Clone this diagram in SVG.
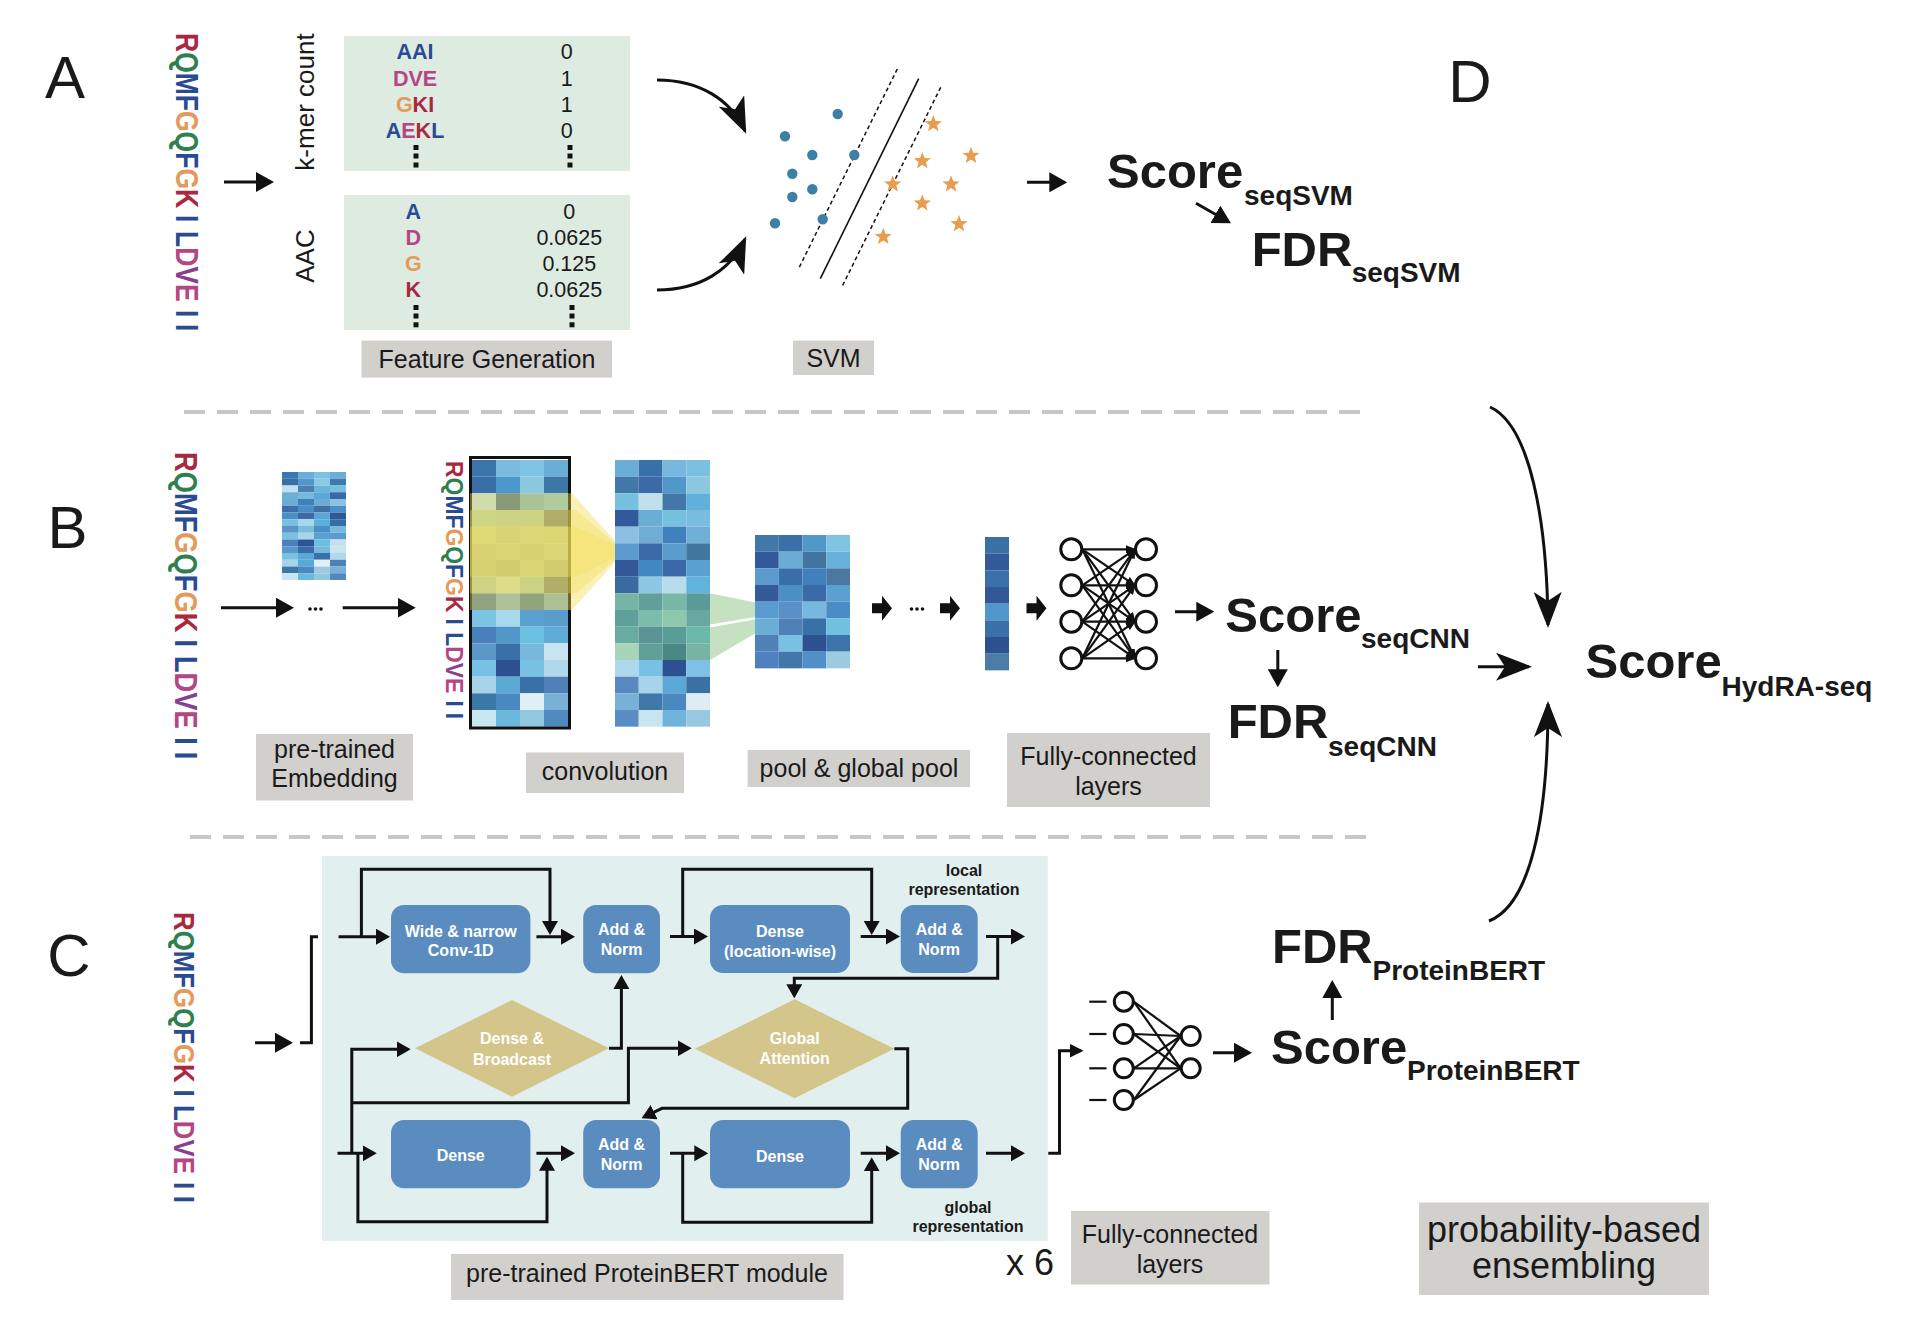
<svg xmlns="http://www.w3.org/2000/svg" width="1928" height="1324" viewBox="0 0 1928 1324">
<style>
text{font-family:"Liberation Sans",Arial,sans-serif;fill:#1a1a1a}
.sec{font-size:60px}
.seq{font-weight:bold}
.cR{fill:#a8283f}.cQ{fill:#2f8050}.cB{fill:#2a4a92}.cG{fill:#e39a5b}.cD{fill:#b54684}.cV{fill:#8a4090}
.tb{font-size:21.5px;font-weight:bold;text-anchor:middle}
.tv{font-size:21.5px;text-anchor:middle}
.rot{font-size:26px;text-anchor:middle}
.lab{fill:#d1d0cc}
.lt{font-size:25px;text-anchor:middle}
.big{font-size:36px;text-anchor:middle}
.sc{font-size:49px;font-weight:bold}
.sub{font-size:28px;font-weight:bold}
.box{fill:#5b8cbf}
.dia{fill:#d4c68b}
.wt{fill:#fff;font-size:16px;font-weight:bold;text-anchor:middle}
.rep{font-size:16px;font-weight:bold;text-anchor:middle}
.ln{fill:none;stroke:#111;stroke-width:3}
.dash{fill:none;stroke:#c7c7c3;stroke-width:4;stroke-dasharray:21 12}
.dot{fill:#3e7fa5}
.star{fill:#e89c4f}
.nn{fill:#fff;stroke:#111;stroke-width:3}
.nl{stroke:#111;stroke-width:2.2}
</style>
<defs>
<marker id="ah" viewBox="0 0 18 20" refX="15" refY="10" markerWidth="18" markerHeight="20" markerUnits="userSpaceOnUse" orient="auto"><path d="M0,0 L18,10 L0,20 Z" fill="#111"/></marker>
<marker id="ac" viewBox="0 0 14 16" refX="11" refY="8" markerWidth="14" markerHeight="16" markerUnits="userSpaceOnUse" orient="auto"><path d="M0,0 L14,8 L0,16 Z" fill="#111"/></marker>
<marker id="as" viewBox="0 0 14 14" refX="11" refY="7" markerWidth="14" markerHeight="14" markerUnits="userSpaceOnUse" orient="auto"><path d="M0,0 L14,7 L0,14 Z" fill="#111"/></marker>
<marker id="an" viewBox="0 0 10 8" refX="9" refY="4" markerWidth="10" markerHeight="8" markerUnits="userSpaceOnUse" orient="auto"><path d="M0,0 L10,4 L0,8 Z" fill="#111"/></marker>
<marker id="acv" viewBox="0 0 36 28" refX="33" refY="14" markerWidth="36" markerHeight="28" markerUnits="userSpaceOnUse" orient="auto"><path d="M0,0 L36,14 L0,28 L9,14 Z" fill="#111"/></marker>
<path id="star" d="M0,-9 L2.23,-3.07 L8.56,-2.78 L3.61,1.17 L5.29,7.28 L0,3.8 L-5.29,7.28 L-3.61,1.17 L-8.56,-2.78 L-2.23,-3.07 Z"/>
<path id="barrow" d="M0,-5 H10 V-12.5 L20,0 L10,12.5 V5 H0 Z"/>
<text id="seqT" class="seq" font-size="26.5"><tspan class="cR">R</tspan><tspan class="cQ">Q</tspan><tspan class="cB">MF</tspan><tspan class="cG">G</tspan><tspan class="cQ">Q</tspan><tspan class="cB">F</tspan><tspan class="cG">G</tspan><tspan class="cR">K</tspan><tspan class="cB" x="182">I</tspan><tspan class="cB" x="198">L</tspan><tspan class="cD">D</tspan><tspan class="cV">V</tspan><tspan class="cD">E</tspan><tspan class="cB" x="277">I</tspan><tspan class="cB" x="291">I</tspan></text>
</defs>

<!-- section letters -->
<g id="letters">
<text class="sec" x="65" y="98" text-anchor="middle">A</text>
<text class="sec" x="67.5" y="548" text-anchor="middle">B</text>
<text class="sec" x="69" y="976" text-anchor="middle">C</text>
<text class="sec" x="1470" y="102" text-anchor="middle">D</text>
</g>

<!-- separators -->
<g id="separators">
<line class="dash" x1="184" y1="412" x2="1367" y2="412"/>
<line class="dash" x1="190" y1="837" x2="1371" y2="837"/>
</g>

<!-- ===== Section A ===== -->
<g id="seqA"><use href="#seqT" transform="translate(176,33) rotate(90) scale(1,1.16)"/></g>
<g id="kmer">
<text class="rot" transform="translate(314,102) rotate(-90)">k-mer count</text>
<rect x="344" y="36" width="286" height="135" fill="#deebe1"/>
<text class="tb" x="415" y="59.3"><tspan class="cB">AAI</tspan></text>
<text class="tb" x="415" y="86"><tspan class="cD">DVE</tspan></text>
<text class="tb" x="415" y="111.7"><tspan class="cG">G</tspan><tspan class="cR">KI</tspan></text>
<text class="tb" x="415" y="138.3"><tspan class="cB">A</tspan><tspan class="cD">E</tspan><tspan class="cR">K</tspan><tspan class="cB">L</tspan></text>
<text class="tv" x="566.7" y="59.3">0</text>
<text class="tv" x="566.7" y="86">1</text>
<text class="tv" x="566.7" y="111.7">1</text>
<text class="tv" x="566.7" y="138.3">0</text>
<g fill="#111"><rect x="413.5" y="145" width="5" height="5"/><rect x="413.5" y="153.5" width="5" height="5"/><rect x="413.5" y="162.5" width="5" height="5"/>
<rect x="567.5" y="145" width="5" height="5"/><rect x="567.5" y="153.5" width="5" height="5"/><rect x="567.5" y="162.5" width="5" height="5"/></g>
</g>
<g id="aac">
<text class="rot" transform="translate(314,256) rotate(-90)">AAC</text>
<rect x="344" y="195" width="286" height="135" fill="#deebe1"/>
<text class="tb" x="413.3" y="219"><tspan class="cB">A</tspan></text>
<text class="tb" x="413.3" y="245"><tspan class="cD">D</tspan></text>
<text class="tb" x="413.3" y="270.7"><tspan class="cG">G</tspan></text>
<text class="tb" x="413.3" y="296.7"><tspan class="cR">K</tspan></text>
<text class="tv" x="569.3" y="219">0</text>
<text class="tv" x="569.3" y="245">0.0625</text>
<text class="tv" x="569.3" y="270.7">0.125</text>
<text class="tv" x="569.3" y="296.7">0.0625</text>
<g fill="#111"><rect x="413.5" y="305" width="5" height="5"/><rect x="413.5" y="313.5" width="5" height="5"/><rect x="413.5" y="322.3" width="5" height="5"/>
<rect x="569.5" y="305" width="5" height="5"/><rect x="569.5" y="313.5" width="5" height="5"/><rect x="569.5" y="322.3" width="5" height="5"/></g>
</g>
<g id="labFeature"><rect class="lab" x="361.5" y="340.6" width="250.5" height="37"/><text class="lt" x="487" y="368">Feature Generation</text></g>

<g id="svm">
<line x1="897.3" y1="69" x2="798.3" y2="269.3" stroke="#111" stroke-width="1.5" stroke-dasharray="4 3"/>
<line x1="918.7" y1="78.7" x2="820.3" y2="278.7" stroke="#111" stroke-width="1.6"/>
<line x1="940.7" y1="87.3" x2="841.7" y2="287.3" stroke="#111" stroke-width="1.5" stroke-dasharray="4 3"/>
<g class="dot">
<circle cx="837.7" cy="114" r="5.2"/><circle cx="785" cy="136.3" r="5.2"/><circle cx="812.3" cy="155" r="5.2"/><circle cx="854.3" cy="155" r="5.2"/><circle cx="792.3" cy="173.7" r="5.2"/><circle cx="812.3" cy="189.3" r="5.2"/><circle cx="792.3" cy="197" r="5.2"/><circle cx="775" cy="223.3" r="5.2"/><circle cx="822.7" cy="219.3" r="5.2"/>
</g>
<g class="star">
<use href="#star" x="933.3" y="124"/><use href="#star" x="971" y="155.7"/><use href="#star" x="922.3" y="161"/><use href="#star" x="892.7" y="184.3"/><use href="#star" x="951" y="184.3"/><use href="#star" x="922.3" y="203.3"/><use href="#star" x="959" y="224"/><use href="#star" x="883.3" y="236.7"/>
</g>
</g>
<g id="labSVM"><rect class="lab" x="793" y="340.6" width="81" height="34.4"/><text class="lt" x="833.5" y="366.5">SVM</text></g>

<g id="scoreSVM">
<text class="sc" x="1107" y="188">Score</text><text class="sub" x="1244" y="205">seqSVM</text>
<text class="sc" x="1251.7" y="265.7">FDR</text><text class="sub" x="1351.7" y="281.7">seqSVM</text>
</g>

<!-- ===== Section B ===== -->
<g id="seqB"><use href="#seqT" transform="translate(175,452) rotate(90) scale(1.03,1.16)"/></g>
<g id="embedSmall" transform="translate(282,472)">
<rect x="0" y="0" width="16" height="6.75" fill="#3a78b0"/><rect x="16" y="0" width="16" height="6.75" fill="#6aaed8"/><rect x="32" y="0" width="16" height="6.75" fill="#7cc0e4"/><rect x="48" y="0" width="16" height="6.75" fill="#6aaed6"/>
<rect x="0" y="6.75" width="16" height="6.75" fill="#3a6ea8"/><rect x="16" y="6.75" width="16" height="6.75" fill="#5098cc"/><rect x="32" y="6.75" width="16" height="6.75" fill="#8ccae4"/><rect x="48" y="6.75" width="16" height="6.75" fill="#3e7aaa"/>
<rect x="0" y="13.5" width="16" height="6.75" fill="#c0e0ee"/><rect x="16" y="13.5" width="16" height="6.75" fill="#4a80b4"/><rect x="32" y="13.5" width="16" height="6.75" fill="#6ab4dc"/><rect x="48" y="13.5" width="16" height="6.75" fill="#78c0e2"/>
<rect x="0" y="20.25" width="16" height="6.75" fill="#6ab0d8"/><rect x="16" y="20.25" width="16" height="6.75" fill="#78b8dc"/><rect x="32" y="20.25" width="16" height="6.75" fill="#5aa8d8"/><rect x="48" y="20.25" width="16" height="6.75" fill="#3a68a8"/>
<rect x="0" y="27" width="16" height="6.75" fill="#6aacd4"/><rect x="16" y="27" width="16" height="6.75" fill="#4080bc"/><rect x="32" y="27" width="16" height="6.75" fill="#6aacd6"/><rect x="48" y="27" width="16" height="6.75" fill="#8cc4e0"/>
<rect x="0" y="33.75" width="16" height="6.75" fill="#3a70aa"/><rect x="16" y="33.75" width="16" height="6.75" fill="#4a8cc4"/><rect x="32" y="33.75" width="16" height="6.75" fill="#3e70a4"/><rect x="48" y="33.75" width="16" height="6.75" fill="#4a90c8"/>
<rect x="0" y="40.5" width="16" height="6.75" fill="#4a90c4"/><rect x="16" y="40.5" width="16" height="6.75" fill="#3a6aa8"/><rect x="32" y="40.5" width="16" height="6.75" fill="#5aa6d6"/><rect x="48" y="40.5" width="16" height="6.75" fill="#2c5a98"/>
<rect x="0" y="47.25" width="16" height="6.75" fill="#78c0e2"/><rect x="16" y="47.25" width="16" height="6.75" fill="#a8d6ea"/><rect x="32" y="47.25" width="16" height="6.75" fill="#5ab0dc"/><rect x="48" y="47.25" width="16" height="6.75" fill="#3a6aa8"/>
<rect x="0" y="54" width="16" height="6.75" fill="#5a94c4"/><rect x="16" y="54" width="16" height="6.75" fill="#7abce0"/><rect x="32" y="54" width="16" height="6.75" fill="#4a90c4"/><rect x="48" y="54" width="16" height="6.75" fill="#78b8dc"/>
<rect x="0" y="60.75" width="16" height="6.75" fill="#78c0e4"/><rect x="16" y="60.75" width="16" height="6.75" fill="#a8d4ea"/><rect x="32" y="60.75" width="16" height="6.75" fill="#5aa0d0"/><rect x="48" y="60.75" width="16" height="6.75" fill="#5a9cd0"/>
<rect x="0" y="67.5" width="16" height="6.75" fill="#4a80bc"/><rect x="16" y="67.5" width="16" height="6.75" fill="#2c5596"/><rect x="32" y="67.5" width="16" height="6.75" fill="#6ac0e0"/><rect x="48" y="67.5" width="16" height="6.75" fill="#c6e0ee"/>
<rect x="0" y="74.25" width="16" height="6.75" fill="#5a98c8"/><rect x="16" y="74.25" width="16" height="6.75" fill="#3a6aa8"/><rect x="32" y="74.25" width="16" height="6.75" fill="#78b8dc"/><rect x="48" y="74.25" width="16" height="6.75" fill="#c8e4f0"/>
<rect x="0" y="81" width="16" height="6.75" fill="#78c0e4"/><rect x="16" y="81" width="16" height="6.75" fill="#5aa8d8"/><rect x="32" y="81" width="16" height="6.75" fill="#3a70a8"/><rect x="48" y="81" width="16" height="6.75" fill="#b0d8ea"/>
<rect x="0" y="87.75" width="16" height="6.75" fill="#a8d4ea"/><rect x="16" y="87.75" width="16" height="6.75" fill="#5aa8d4"/><rect x="32" y="87.75" width="16" height="6.75" fill="#e0f0f6"/><rect x="48" y="87.75" width="16" height="6.75" fill="#5080b8"/>
<rect x="0" y="94.5" width="16" height="6.75" fill="#3a78a8"/><rect x="16" y="94.5" width="16" height="6.75" fill="#4a88c0"/><rect x="32" y="94.5" width="16" height="6.75" fill="#9ecae1"/><rect x="48" y="94.5" width="16" height="6.75" fill="#78b0d8"/>
<rect x="0" y="101.25" width="16" height="6.75" fill="#c8e6f0"/><rect x="16" y="101.25" width="16" height="6.75" fill="#6ab8dc"/><rect x="32" y="101.25" width="16" height="6.75" fill="#90c8e0"/><rect x="48" y="101.25" width="16" height="6.75" fill="#5088c0"/>
</g>
<g id="ellipsisB" fill="#111">
<circle cx="310" cy="609" r="1.8"/><circle cx="315.5" cy="609" r="1.8"/><circle cx="321" cy="609" r="1.8"/>
<circle cx="911.5" cy="609" r="1.8"/><circle cx="917" cy="609" r="1.8"/><circle cx="922.5" cy="609" r="1.8"/>
</g>
<g id="seqB2"><use href="#seqT" transform="translate(446,461) rotate(90) scale(0.865,0.9)"/></g>
<g id="convInput">
<g transform="translate(472,460)">
<rect x="0" y="0" width="24" height="16.67" fill="#3b74a8"/><rect x="24" y="0" width="24" height="16.67" fill="#7bbbe0"/><rect x="48" y="0" width="24" height="16.67" fill="#7fc4e4"/><rect x="72" y="0" width="24" height="16.67" fill="#6aaed6"/>
<rect x="0" y="16.67" width="24" height="16.67" fill="#3a6ea8"/><rect x="24" y="16.67" width="24" height="16.67" fill="#4a98cc"/><rect x="48" y="16.67" width="24" height="16.67" fill="#8cc8e0"/><rect x="72" y="16.67" width="24" height="16.67" fill="#3e78a8"/>
<rect x="0" y="33.33" width="24" height="16.67" fill="#b8dcea"/><rect x="24" y="33.33" width="24" height="16.67" fill="#3a6a90"/><rect x="48" y="33.33" width="24" height="16.67" fill="#78b0c8"/><rect x="72" y="33.33" width="24" height="16.67" fill="#80c0d0"/>
<rect x="0" y="50" width="24" height="16.67" fill="#90c8dc"/><rect x="24" y="50" width="24" height="16.67" fill="#90c4d8"/><rect x="48" y="50" width="24" height="16.67" fill="#90c0d8"/><rect x="72" y="50" width="24" height="16.67" fill="#3a5a88"/>
<rect x="0" y="66.67" width="24" height="16.67" fill="#a0d0e4"/><rect x="24" y="66.67" width="24" height="16.67" fill="#80b8d8"/><rect x="48" y="66.67" width="24" height="16.67" fill="#98c8e0"/><rect x="72" y="66.67" width="24" height="16.67" fill="#90c4dc"/>
<rect x="0" y="83.33" width="24" height="16.67" fill="#80b4d8"/><rect x="24" y="83.33" width="24" height="16.67" fill="#88c0dc"/><rect x="48" y="83.33" width="24" height="16.67" fill="#78b0d4"/><rect x="72" y="83.33" width="24" height="16.67" fill="#90c8e0"/>
<rect x="0" y="100" width="24" height="16.67" fill="#78b0d4"/><rect x="24" y="100" width="24" height="16.67" fill="#6aa0c8"/><rect x="48" y="100" width="24" height="16.67" fill="#88c0dc"/><rect x="72" y="100" width="24" height="16.67" fill="#6a98c0"/>
<rect x="0" y="116.67" width="24" height="16.67" fill="#90c4dc"/><rect x="24" y="116.67" width="24" height="16.67" fill="#b8dcea"/><rect x="48" y="116.67" width="24" height="16.67" fill="#88c0d8"/><rect x="72" y="116.67" width="24" height="16.67" fill="#3a6090"/>
<rect x="0" y="133.33" width="24" height="16.67" fill="#4a7ca0"/><rect x="24" y="133.33" width="24" height="16.67" fill="#7ab0c8"/><rect x="48" y="133.33" width="24" height="16.67" fill="#4a7c98"/><rect x="72" y="133.33" width="24" height="16.67" fill="#78acc0"/>
<rect x="0" y="150" width="24" height="16.67" fill="#7cc4e4"/><rect x="24" y="150" width="24" height="16.67" fill="#a8d8ec"/><rect x="48" y="150" width="24" height="16.67" fill="#5aa0d0"/><rect x="72" y="150" width="24" height="16.67" fill="#5a9ccc"/>
<rect x="0" y="166.67" width="24" height="16.67" fill="#4a80bc"/><rect x="24" y="166.67" width="24" height="16.67" fill="#5098c8"/><rect x="48" y="166.67" width="24" height="16.67" fill="#6ac0e0"/><rect x="72" y="166.67" width="24" height="16.67" fill="#60acd8"/>
<rect x="0" y="183.33" width="24" height="16.67" fill="#5a98c8"/><rect x="24" y="183.33" width="24" height="16.67" fill="#3a70a8"/><rect x="48" y="183.33" width="24" height="16.67" fill="#78b8dc"/><rect x="72" y="183.33" width="24" height="16.67" fill="#c8e4f0"/>
<rect x="0" y="200" width="24" height="16.67" fill="#78c0e4"/><rect x="24" y="200" width="24" height="16.67" fill="#2c5090"/><rect x="48" y="200" width="24" height="16.67" fill="#78c0e4"/><rect x="72" y="200" width="24" height="16.67" fill="#b0d8ea"/>
<rect x="0" y="216.67" width="24" height="16.67" fill="#a8d4ea"/><rect x="24" y="216.67" width="24" height="16.67" fill="#5aa8d4"/><rect x="48" y="216.67" width="24" height="16.67" fill="#3a70a8"/><rect x="72" y="216.67" width="24" height="16.67" fill="#5080b8"/>
<rect x="0" y="233.33" width="24" height="16.67" fill="#3a78a8"/><rect x="24" y="233.33" width="24" height="16.67" fill="#4a88c0"/><rect x="48" y="233.33" width="24" height="16.67" fill="#e0f0f6"/><rect x="72" y="233.33" width="24" height="16.67" fill="#78b0d8"/>
<rect x="0" y="250" width="24" height="16.67" fill="#c8e6f0"/><rect x="24" y="250" width="24" height="16.67" fill="#6ab8dc"/><rect x="48" y="250" width="24" height="16.67" fill="#90c8e0"/><rect x="72" y="250" width="24" height="16.67" fill="#5088c0"/>
</g>
<rect x="470.5" y="457.5" width="99" height="270.5" fill="none" stroke="#111" stroke-width="3"/>
</g>
<g id="convOutput" transform="translate(615,460)">
<rect x="0" y="0" width="23.75" height="16.67" fill="#6aaed6"/><rect x="23.75" y="0" width="23.75" height="16.67" fill="#3a70a8"/><rect x="47.5" y="0" width="23.75" height="16.67" fill="#78b8de"/><rect x="71.25" y="0" width="23.75" height="16.67" fill="#7cc0e0"/>
<rect x="0" y="16.67" width="23.75" height="16.67" fill="#4278a8"/><rect x="23.75" y="16.67" width="23.75" height="16.67" fill="#3a6aa8"/><rect x="47.5" y="16.67" width="23.75" height="16.67" fill="#5098c8"/><rect x="71.25" y="16.67" width="23.75" height="16.67" fill="#8cc8e0"/>
<rect x="0" y="33.33" width="23.75" height="16.67" fill="#78c0e0"/><rect x="23.75" y="33.33" width="23.75" height="16.67" fill="#c0e0ec"/><rect x="47.5" y="33.33" width="23.75" height="16.67" fill="#4278a8"/><rect x="71.25" y="33.33" width="23.75" height="16.67" fill="#60b0dc"/>
<rect x="0" y="50" width="23.75" height="16.67" fill="#325a9a"/><rect x="23.75" y="50" width="23.75" height="16.67" fill="#6aaed6"/><rect x="47.5" y="50" width="23.75" height="16.67" fill="#78c0e0"/><rect x="71.25" y="50" width="23.75" height="16.67" fill="#78bce0"/>
<rect x="0" y="66.67" width="23.75" height="16.67" fill="#8cc0e0"/><rect x="23.75" y="66.67" width="23.75" height="16.67" fill="#70acd4"/><rect x="47.5" y="66.67" width="23.75" height="16.67" fill="#4080bc"/><rect x="71.25" y="66.67" width="23.75" height="16.67" fill="#70b0d8"/>
<rect x="0" y="83.33" width="23.75" height="16.67" fill="#5a9acc"/><rect x="23.75" y="83.33" width="23.75" height="16.67" fill="#3a6aa8"/><rect x="47.5" y="83.33" width="23.75" height="16.67" fill="#5a9ccc"/><rect x="71.25" y="83.33" width="23.75" height="16.67" fill="#4278a0"/>
<rect x="0" y="100" width="23.75" height="16.67" fill="#325898"/><rect x="23.75" y="100" width="23.75" height="16.67" fill="#4088c0"/><rect x="47.5" y="100" width="23.75" height="16.67" fill="#3a68a8"/><rect x="71.25" y="100" width="23.75" height="16.67" fill="#5aa0d0"/>
<rect x="0" y="116.67" width="23.75" height="16.67" fill="#3a6aa0"/><rect x="23.75" y="116.67" width="23.75" height="16.67" fill="#8cc8e4"/><rect x="47.5" y="116.67" width="23.75" height="16.67" fill="#b8dcea"/><rect x="71.25" y="116.67" width="23.75" height="16.67" fill="#60b4dc"/>
<rect x="0" y="133.33" width="23.75" height="16.67" fill="#78b4a4"/><rect x="23.75" y="133.33" width="23.75" height="16.67" fill="#60a098"/><rect x="47.5" y="133.33" width="23.75" height="16.67" fill="#78b8a8"/><rect x="71.25" y="133.33" width="23.75" height="16.67" fill="#5a9a98"/>
<rect x="0" y="150" width="23.75" height="16.67" fill="#60a09c"/><rect x="23.75" y="150" width="23.75" height="16.67" fill="#7cbcac"/><rect x="47.5" y="150" width="23.75" height="16.67" fill="#90c8ac"/><rect x="71.25" y="150" width="23.75" height="16.67" fill="#68a8a0"/>
<rect x="0" y="166.67" width="23.75" height="16.67" fill="#68aca0"/><rect x="23.75" y="166.67" width="23.75" height="16.67" fill="#5a9494"/><rect x="47.5" y="166.67" width="23.75" height="16.67" fill="#5a9c98"/><rect x="71.25" y="166.67" width="23.75" height="16.67" fill="#6cb8a8"/>
<rect x="0" y="183.33" width="23.75" height="16.67" fill="#a8d4b8"/><rect x="23.75" y="183.33" width="23.75" height="16.67" fill="#60a098"/><rect x="47.5" y="183.33" width="23.75" height="16.67" fill="#4a8884"/><rect x="71.25" y="183.33" width="23.75" height="16.67" fill="#78b4a4"/>
<rect x="0" y="200" width="23.75" height="16.67" fill="#b0d8ec"/><rect x="23.75" y="200" width="23.75" height="16.67" fill="#78c0e4"/><rect x="47.5" y="200" width="23.75" height="16.67" fill="#2c5090"/><rect x="71.25" y="200" width="23.75" height="16.67" fill="#80c0e4"/>
<rect x="0" y="216.67" width="23.75" height="16.67" fill="#5a88c0"/><rect x="23.75" y="216.67" width="23.75" height="16.67" fill="#a8d4ea"/><rect x="47.5" y="216.67" width="23.75" height="16.67" fill="#5aa8d8"/><rect x="71.25" y="216.67" width="23.75" height="16.67" fill="#3a70a4"/>
<rect x="0" y="233.33" width="23.75" height="16.67" fill="#78b0d8"/><rect x="23.75" y="233.33" width="23.75" height="16.67" fill="#4278a8"/><rect x="47.5" y="233.33" width="23.75" height="16.67" fill="#4a88c0"/><rect x="71.25" y="233.33" width="23.75" height="16.67" fill="#dceef4"/>
<rect x="0" y="250" width="23.75" height="16.67" fill="#5a8cc4"/><rect x="23.75" y="250" width="23.75" height="16.67" fill="#c8e4f0"/><rect x="47.5" y="250" width="23.75" height="16.67" fill="#70b4dc"/><rect x="71.25" y="250" width="23.75" height="16.67" fill="#98c8e0"/>
</g>
<g id="convHighlight" fill="#f3dc55">
<polygon points="470,493.3 572,493.3 615,541 615,562 572,610 470,610" opacity="0.42"/>
<polygon points="470,510 576,510 615,543 615,560 576,593.3 470,593.3" opacity="0.38"/>
<polygon points="470,526.7 576,526.7 615,545 615,558 576,576.7 470,576.7" opacity="0.35"/>
</g>
<g id="poolFunnel" fill="#c5e1c1">
<polygon points="710,593.3 755,602.5 755,617 710,624.5"/>
<polygon points="710,627.5 755,619.5 755,633.5 710,660"/>
</g>
<g id="pooled" transform="translate(755,535)">
<rect x="0" y="0" width="23.75" height="16.67" fill="#4278a8"/><rect x="23.75" y="0" width="23.75" height="16.67" fill="#3a70a8"/><rect x="47.5" y="0" width="23.75" height="16.67" fill="#5098c8"/><rect x="71.25" y="0" width="23.75" height="16.67" fill="#80c4e4"/>
<rect x="0" y="16.67" width="23.75" height="16.67" fill="#325a9a"/><rect x="23.75" y="16.67" width="23.75" height="16.67" fill="#6aacd6"/><rect x="47.5" y="16.67" width="23.75" height="16.67" fill="#4274a0"/><rect x="71.25" y="16.67" width="23.75" height="16.67" fill="#68b0da"/>
<rect x="0" y="33.33" width="23.75" height="16.67" fill="#5a9acc"/><rect x="23.75" y="33.33" width="23.75" height="16.67" fill="#3a6ea8"/><rect x="47.5" y="33.33" width="23.75" height="16.67" fill="#4080bc"/><rect x="71.25" y="33.33" width="23.75" height="16.67" fill="#4a78a0"/>
<rect x="0" y="50" width="23.75" height="16.67" fill="#345a9a"/><rect x="23.75" y="50" width="23.75" height="16.67" fill="#4a90c4"/><rect x="47.5" y="50" width="23.75" height="16.67" fill="#3a6aa8"/><rect x="71.25" y="50" width="23.75" height="16.67" fill="#5aa0d0"/>
<rect x="0" y="66.67" width="23.75" height="16.67" fill="#5a9cd0"/><rect x="23.75" y="66.67" width="23.75" height="16.67" fill="#5a90c8"/><rect x="47.5" y="66.67" width="23.75" height="16.67" fill="#78b8de"/><rect x="71.25" y="66.67" width="23.75" height="16.67" fill="#4a8cc4"/>
<rect x="0" y="83.33" width="23.75" height="16.67" fill="#6aaed6"/><rect x="23.75" y="83.33" width="23.75" height="16.67" fill="#5080b8"/><rect x="47.5" y="83.33" width="23.75" height="16.67" fill="#3a70a8"/><rect x="71.25" y="83.33" width="23.75" height="16.67" fill="#70c0e0"/>
<rect x="0" y="100" width="23.75" height="16.67" fill="#5080b8"/><rect x="23.75" y="100" width="23.75" height="16.67" fill="#7ac0e4"/><rect x="47.5" y="100" width="23.75" height="16.67" fill="#2c5090"/><rect x="71.25" y="100" width="23.75" height="16.67" fill="#3a74a8"/>
<rect x="0" y="116.67" width="23.75" height="16.67" fill="#5080c0"/><rect x="23.75" y="116.67" width="23.75" height="16.67" fill="#4278a8"/><rect x="47.5" y="116.67" width="23.75" height="16.67" fill="#5090c8"/><rect x="71.25" y="116.67" width="23.75" height="16.67" fill="#9ccae0"/>
</g>
<g id="vector" transform="translate(985,537)">
<rect x="0" y="0" width="24" height="16.67" fill="#3a70a4"/><rect x="0" y="16.67" width="24" height="16.67" fill="#345a9a"/><rect x="0" y="33.33" width="24" height="16.67" fill="#3a70ac"/><rect x="0" y="50" width="24" height="16.67" fill="#325898"/><rect x="0" y="66.67" width="24" height="16.67" fill="#5098cc"/><rect x="0" y="83.33" width="24" height="16.67" fill="#3a70a8"/><rect x="0" y="100" width="24" height="16.67" fill="#2c5090"/><rect x="0" y="116.67" width="24" height="16.67" fill="#4a7ca8"/>
</g>
<g id="nnB">
<g class="nl" marker-end="url(#an)">
<line x1="1082.3" y1="549.3" x2="1135" y2="549.3"/><line x1="1082.3" y1="549.3" x2="1135" y2="585.3"/><line x1="1082.3" y1="549.3" x2="1135" y2="621.7"/><line x1="1082.3" y1="549.3" x2="1135" y2="658.3"/>
<line x1="1082.3" y1="585.3" x2="1135" y2="549.3"/><line x1="1082.3" y1="585.3" x2="1135" y2="585.3"/><line x1="1082.3" y1="585.3" x2="1135" y2="621.7"/><line x1="1082.3" y1="585.3" x2="1135" y2="658.3"/>
<line x1="1082.3" y1="621.7" x2="1135" y2="549.3"/><line x1="1082.3" y1="621.7" x2="1135" y2="585.3"/><line x1="1082.3" y1="621.7" x2="1135" y2="621.7"/><line x1="1082.3" y1="621.7" x2="1135" y2="658.3"/>
<line x1="1082.3" y1="658.3" x2="1135" y2="549.3"/><line x1="1082.3" y1="658.3" x2="1135" y2="585.3"/><line x1="1082.3" y1="658.3" x2="1135" y2="621.7"/><line x1="1082.3" y1="658.3" x2="1135" y2="658.3"/>
</g>
<circle class="nn" cx="1071.3" cy="549.3" r="10.5"/><circle class="nn" cx="1071.3" cy="585.3" r="10.5"/><circle class="nn" cx="1071.3" cy="621.7" r="10.5"/><circle class="nn" cx="1071.3" cy="658.3" r="10.5"/>
<circle class="nn" cx="1146" cy="549.3" r="10.5"/><circle class="nn" cx="1146" cy="585.3" r="10.5"/><circle class="nn" cx="1146" cy="621.7" r="10.5"/><circle class="nn" cx="1146" cy="658.3" r="10.5"/>
</g>
<g id="labEmbed"><rect class="lab" x="256" y="734" width="157" height="66.5"/><text class="lt" x="334.5" y="758">pre-trained</text><text class="lt" x="334.5" y="787">Embedding</text></g>
<g id="labConv"><rect class="lab" x="526" y="752.5" width="158" height="40.5"/><text class="lt" x="605" y="780">convolution</text></g>
<g id="labPool"><rect class="lab" x="747.6" y="750" width="222.4" height="37"/><text class="lt" x="859" y="777">pool &amp; global pool</text></g>
<g id="labFCB"><rect class="lab" x="1007" y="733" width="203" height="74"/><text class="lt" x="1108.5" y="765">Fully-connected</text><text class="lt" x="1108.5" y="795">layers</text></g>
<g id="scoreCNN">
<text class="sc" x="1225.3" y="631.7">Score</text><text class="sub" x="1361" y="648.3">seqCNN</text>
<text class="sc" x="1227.7" y="738.3">FDR</text><text class="sub" x="1328" y="756">seqCNN</text>
</g>
<g id="scoreHydRA">
<text class="sc" x="1585.5" y="678.3">Score</text><text class="sub" x="1721.5" y="696">HydRA-seq</text>
</g>

<!-- ===== Section C ===== -->
<g id="seqC"><use href="#seqT" transform="translate(174,912) rotate(90) scale(0.975,1.13)"/></g>
<g id="panelC"><rect x="322" y="856" width="725.7" height="385" fill="#e1efee"/></g>
<g id="convWide"><rect class="box" x="391" y="905" width="139.4" height="68.3" rx="13"/><text class="wt" x="460.7" y="936.7">Wide &amp; narrow</text><text class="wt" x="460.7" y="955.5">Conv-1D</text></g>
<g id="addNorm1"><rect class="box" x="583.2" y="905" width="76.8" height="68.3" rx="13"/><text class="wt" x="621.6" y="935">Add &amp;</text><text class="wt" x="621.6" y="955">Norm</text></g>
<g id="denseLoc"><rect class="box" x="710" y="905" width="140" height="68" rx="13"/><text class="wt" x="780" y="936.7">Dense</text><text class="wt" x="780" y="956.7">(location-wise)</text></g>
<g id="addNorm2"><rect class="box" x="900.7" y="905" width="77" height="68" rx="13"/><text class="wt" x="939.2" y="935">Add &amp;</text><text class="wt" x="939.2" y="955">Norm</text></g>
<g id="denseBroadcast"><polygon class="dia" points="415,1048.3 512,1000 609,1048.3 512,1096.7"/><text class="wt" x="512" y="1044">Dense &amp;</text><text class="wt" x="512" y="1065">Broadcast</text></g>
<g id="globalAttention"><polygon class="dia" points="695,1048.8 794.7,999.3 894.3,1048.8 794.7,1098.3"/><text class="wt" x="794.7" y="1044">Global</text><text class="wt" x="794.7" y="1064">Attention</text></g>
<g id="dense1"><rect class="box" x="391" y="1120" width="139.4" height="68.3" rx="13"/><text class="wt" x="460.7" y="1160.7">Dense</text></g>
<g id="addNorm3"><rect class="box" x="583.2" y="1120" width="76.8" height="68.3" rx="13"/><text class="wt" x="621.6" y="1150">Add &amp;</text><text class="wt" x="621.6" y="1170">Norm</text></g>
<g id="dense2"><rect class="box" x="710" y="1120" width="140" height="68.3" rx="13"/><text class="wt" x="780" y="1161.7">Dense</text></g>
<g id="addNorm4"><rect class="box" x="900.7" y="1120" width="77" height="68.3" rx="13"/><text class="wt" x="939.2" y="1150">Add &amp;</text><text class="wt" x="939.2" y="1170">Norm</text></g>
<g id="repLabels">
<text class="rep" x="964" y="876">local</text><text class="rep" x="964" y="895">representation</text>
<text class="rep" x="968" y="1213.3">global</text><text class="rep" x="968" y="1231.7">representation</text>
</g>
<g id="nnC">
<g class="nl">
<line x1="1089.3" y1="1001.7" x2="1106.5" y2="1001.7"/><line x1="1089.3" y1="1034" x2="1106.5" y2="1034"/><line x1="1089.3" y1="1068.3" x2="1106.5" y2="1068.3"/><line x1="1089.3" y1="1100" x2="1106.5" y2="1100"/>
<line x1="1133.8" y1="1001.7" x2="1180.7" y2="1036"/><line x1="1133.8" y1="1001.7" x2="1180.7" y2="1068.3"/>
<line x1="1133.8" y1="1034" x2="1180.7" y2="1036"/><line x1="1133.8" y1="1034" x2="1180.7" y2="1068.3"/>
<line x1="1133.8" y1="1068.3" x2="1180.7" y2="1036"/><line x1="1133.8" y1="1068.3" x2="1180.7" y2="1068.3"/>
<line x1="1133.8" y1="1100" x2="1180.7" y2="1036"/><line x1="1133.8" y1="1100" x2="1180.7" y2="1068.3"/>
</g>
<circle class="nn" cx="1123.8" cy="1001.7" r="9.5" stroke-width="2.5"/><circle class="nn" cx="1123.8" cy="1034" r="9.5" stroke-width="2.5"/><circle class="nn" cx="1123.8" cy="1068.3" r="9.5" stroke-width="2.5"/><circle class="nn" cx="1123.8" cy="1100" r="9.5" stroke-width="2.5"/>
<circle class="nn" cx="1190.7" cy="1036" r="9.5" stroke-width="2.5"/><circle class="nn" cx="1190.7" cy="1068.3" r="9.5" stroke-width="2.5"/>
</g>
<g id="labModule"><rect class="lab" x="451" y="1254" width="392.5" height="46"/><text class="lt" x="647" y="1282">pre-trained ProteinBERT module</text></g>
<text id="x6" x="1006" y="1275" font-size="36">x 6</text>
<g id="labFCC"><rect class="lab" x="1071" y="1211" width="198.5" height="73.5"/><text class="lt" x="1170" y="1243.3">Fully-connected</text><text class="lt" x="1170" y="1272.7">layers</text></g>
<g id="scoreBERT">
<text class="sc" x="1272" y="963.3">FDR</text><text class="sub" x="1372.5" y="980">ProteinBERT</text>
<text class="sc" x="1271" y="1064">Score</text><text class="sub" x="1407" y="1080">ProteinBERT</text>
</g>
<g id="labEnsemble"><rect class="lab" x="1419" y="1202.5" width="290" height="92.5"/><text class="big" x="1564" y="1241.7">probability-based</text><text class="big" x="1564" y="1278.3">ensembling</text></g>

<!-- ===== connectors ===== -->
<g id="connectors">
<!-- A -->
<path class="ln" d="M224,182 H271" marker-end="url(#ah)"/>
<path class="ln" stroke-width="4" d="M657,80 C700,80 731,100 745,131" marker-end="url(#acv)"/>
<path class="ln" stroke-width="4" d="M657,290 C700,290 731,270 745,239" marker-end="url(#acv)"/>
<path class="ln" d="M1027,182.3 H1064.3" marker-end="url(#ah)"/>
<path class="ln" d="M1196,203.3 L1228.4,221.8" marker-end="url(#ah)"/>
<!-- B -->
<path class="ln" d="M221,607.7 H291" marker-end="url(#ah)"/>
<path class="ln" d="M342.7,607.7 H412.7" marker-end="url(#ah)"/>
<g fill="#111">
<use href="#barrow" x="872" y="608.3"/><use href="#barrow" x="940" y="608.3"/><use href="#barrow" x="1026.5" y="608.3"/>
</g>
<path class="ln" d="M1175,611.7 H1211.3" marker-end="url(#ah)"/>
<path class="ln" d="M1277.8,650 V684.3" marker-end="url(#ah)"/>
<path class="ln" d="M1478,666.7 H1529" marker-end="url(#acv)"/>
<path class="ln" stroke-width="3.5" d="M1490,407 C1530,425 1547,520 1548,625" marker-end="url(#acv)"/>
<path class="ln" stroke-width="3.5" d="M1489,921 C1530,905 1548,820 1548,704" marker-end="url(#acv)"/>
<!-- C -->
<path class="ln" d="M255,1042.7 H290" marker-end="url(#ah)"/>
<path class="ln" d="M300,1042.7 H311.4 V936.7 H318"/>
<path class="ln" d="M338.6,936.7 H387" marker-end="url(#ac)"/>
<path class="ln" d="M361.4,936.7 V869.3 H550 V932" marker-end="url(#ac)"/>
<path class="ln" d="M536.4,936.7 H572" marker-end="url(#ac)"/>
<path class="ln" d="M670,936.5 H705" marker-end="url(#ac)"/>
<path class="ln" d="M682.7,936.5 V869.3 H871.7 V932" marker-end="url(#ac)"/>
<path class="ln" d="M860.7,936.5 H897" marker-end="url(#ac)"/>
<path class="ln" d="M986,936.5 H1022" marker-end="url(#ac)"/>
<path class="ln" d="M997.7,936.5 V978.3 H794.3 V995.3" marker-end="url(#ac)"/>
<path class="ln" d="M609,1048.3 H621.4 V978" marker-end="url(#ac)"/>
<path class="ln" d="M351.8,1153.3 V1049.3 H407.7" marker-end="url(#ac)"/>
<path class="ln" d="M351.8,1102.7 H628.4 V1048.3 H688.7" marker-end="url(#ac)"/>
<path class="ln" d="M894.3,1048.8 H907.7 V1108.3 H662 L644.3,1116.9" marker-end="url(#ac)"/>
<path class="ln" d="M337.5,1153.3 H373.8" marker-end="url(#ac)"/>
<path class="ln" d="M357.9,1153.3 V1221.7 H547 V1159.7" marker-end="url(#ac)"/>
<path class="ln" d="M536.4,1153.3 H572" marker-end="url(#ac)"/>
<path class="ln" d="M670,1153.3 H705.3" marker-end="url(#ac)"/>
<path class="ln" d="M682.7,1153.3 V1222.3 H871.7 V1160.3" marker-end="url(#ac)"/>
<path class="ln" d="M860.7,1153.3 H897" marker-end="url(#ac)"/>
<path class="ln" d="M986,1153.3 H1022" marker-end="url(#ac)"/>
<path class="ln" d="M1048.3,1153.3 H1059.5 V1050.7 H1080.6" marker-end="url(#as)"/>
<path class="ln" d="M1213,1052.7 H1249" marker-end="url(#ah)"/>
<path class="ln" d="M1332.3,1020 V983" marker-end="url(#ah)"/>
</g>
</svg>
